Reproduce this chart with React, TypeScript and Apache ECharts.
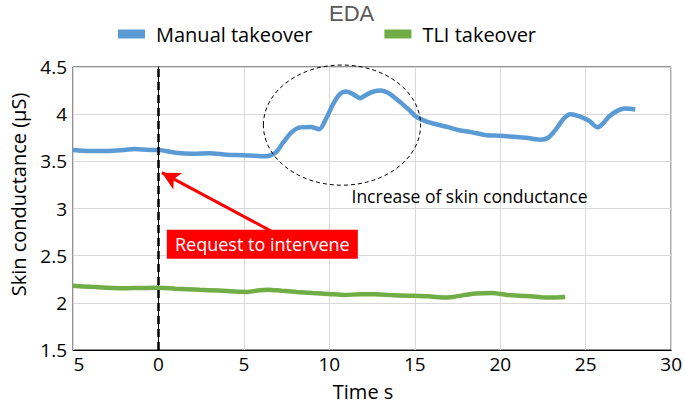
import React, { useEffect, useRef } from "react";
import * as echarts from "echarts";

const manualTime = [-5, -4, -3, -2, -1.4, -0.5, 0, 1, 2, 3, 4, 5, 6, 6.5, 6.9, 7.3, 7.8, 8.3, 8.9, 9.4, 9.8, 10.2, 10.6, 11.0, 11.4, 11.8, 12.2, 12.6, 13.0, 13.4, 13.8, 14.2, 14.7, 15.1, 15.7, 16.3, 17, 17.6, 18.3, 19.1, 20, 20.8, 21.5, 22.3, 22.8, 23.3, 23.7, 24.1, 24.6, 25.2, 25.7, 26, 26.4, 26.9, 27.3, 27.9];
const manualEDA = [3.62, 3.61, 3.61, 3.62, 3.63, 3.62, 3.62, 3.59, 3.58, 3.585, 3.57, 3.565, 3.555, 3.56, 3.6, 3.7, 3.81, 3.86, 3.865, 3.84, 3.95, 4.1, 4.21, 4.24, 4.21, 4.17, 4.21, 4.24, 4.25, 4.23, 4.18, 4.12, 4.04, 3.97, 3.92, 3.89, 3.86, 3.83, 3.81, 3.78, 3.77, 3.76, 3.75, 3.73, 3.75, 3.85, 3.95, 4.0, 3.98, 3.93, 3.86, 3.9, 3.98, 4.04, 4.06, 4.05];

const tliTime = [-5, -4, -3, -2, -1, 0, 1, 2.4, 3.5, 4.5, 5.2, 5.8, 6.4, 7.2, 8.1, 9, 10, 10.9, 11.8, 12.7, 13.8, 15, 15.8, 16.6, 17.25, 18, 18.6, 19.5, 20.4, 21.5, 22.4, 22.9, 23.8];
const tliEDA = [2.18, 2.17, 2.16, 2.155, 2.158, 2.16, 2.15, 2.138, 2.13, 2.12, 2.116, 2.13, 2.14, 2.128, 2.116, 2.105, 2.094, 2.084, 2.09, 2.09, 2.08, 2.074, 2.07, 2.056, 2.063, 2.085, 2.1, 2.105, 2.084, 2.072, 2.06, 2.056, 2.063];

const seriesNames = ["Manual takeover", "TLI takeover"];
const xTicks = { min: -5, max: 30, step: 5 };
const yTicks = { min: 1.5, max: 4.5, step: 0.5 };
const interventionTime = 0;

// annotation anchors (data coordinates)
const ellipseCenter = [10.74, 3.884];
const ellipseRadius = [4.6, 0.637];
const increaseLabelAt = [18.2, 3.13];
const arrowFrom = [6.6, 2.76];
const arrowTo = [0.2, 3.38];
const requestBoxAt = [0.49, 2.774];

const FONT = "'Open Sans', sans-serif";
const TITLE_FONT = "'Liberation Sans', sans-serif";

export default function App() {
  const ref = useRef<HTMLDivElement>(null);
  useEffect(() => {
    document.body.style.margin = "0";
    const chart = echarts.init(ref.current!, null, { renderer: "svg" });
    chart.setOption({
      animation: false,
      textStyle: { fontFamily: FONT },
      title: {
        text: "EDA",
        left: 329,
        top: 0,
        padding: 0,
        textStyle: { color: "#595959", fontSize: 22, lineHeight: 26, fontWeight: "normal", fontFamily: TITLE_FONT },
      },
      legend: {
        top: 19,
        left: 113,
        itemWidth: 27,
        itemHeight: 9,
        itemGap: 72,
        icon: "rect",
        textStyle: { fontSize: 20, color: "#000", fontFamily: FONT, padding: [0, 0, 0, 6] },
        data: seriesNames,
      },
      grid: {
        left: 69,
        right: 4,
        top: 67,
        bottom: 54,
        show: true,
        borderColor: "#222",
        borderWidth: 1,
      },
      xAxis: {
        type: "value",
        min: xTicks.min,
        max: xTicks.max,
        interval: xTicks.step,
        name: "Time s",
        nameLocation: "middle",
        nameGap: 31,
        nameTextStyle: { fontSize: 20, color: "#000", fontFamily: FONT, padding: [0, 18, 0, 0] },
        axisLine: { lineStyle: { color: "#000", width: 1 } },
        axisTick: { show: false },
        axisLabel: {
          fontSize: 19,
          color: "#000",
          margin: 4,
          fontFamily: FONT,
          formatter: (v: number) => (v < 0 ? "{p|" + Math.abs(v) + "}" : String(v)),
          rich: { p: { fontSize: 19, color: "#000", fontFamily: FONT, padding: [0, 0, 0, 12] } },
        },
        splitLine: { show: true, lineStyle: { color: "#d9d9d9", width: 1 } },
      },
      yAxis: {
        type: "value",
        min: yTicks.min,
        max: yTicks.max,
        interval: yTicks.step,
        name: "Skin conductance (µS)",
        nameLocation: "middle",
        nameGap: 45,
        nameTextStyle: { fontSize: 20, color: "#000", fontFamily: FONT, padding: [0, 0, 0, 28] },
        axisLine: { show: true, lineStyle: { color: "#000", width: 1 } },
        axisTick: { show: false },
        axisLabel: { fontSize: 19, color: "#000", margin: 6, fontFamily: FONT },
        splitLine: { show: true, lineStyle: { color: "#d9d9d9", width: 1 } },
      },
      series: [
        {
          name: seriesNames[0],
          type: "line",
          data: manualTime.map((t, i) => [t, manualEDA[i]]),
          showSymbol: false,
          smooth: 0.3,
          color: "#5B9BD5",
          lineStyle: { width: 4.5, color: "#5B9BD5" },
          z: 3,
          markLine: {
            silent: true,
            animation: false,
            label: { show: false },
            data: [
              [
                { coord: arrowFrom, symbol: "none", lineStyle: { color: "#FF0000", width: 3, type: "solid" } },
                { coord: arrowTo, symbol: "arrow", symbolSize: [14, 18] },
              ],
            ],
          },
        },
        {
          name: seriesNames[1],
          type: "line",
          data: tliTime.map((t, i) => [t, tliEDA[i]]),
          showSymbol: false,
          smooth: 0.3,
          color: "#70AD47",
          lineStyle: { width: 4.5, color: "#70AD47" },
          z: 3,
          markLine: {
            silent: true,
            animation: false,
            symbol: "none",
            label: { show: false },
            lineStyle: { color: "#000", width: 2.5, type: [8, 5] },
            data: [{ xAxis: interventionTime }],
          },
        },
      ],
    });

    const px = (p: number[]) => chart.convertToPixel({ gridIndex: 0 }, p) as number[];
    const c = px(ellipseCenter);
    const edge = px([ellipseCenter[0] + ellipseRadius[0], ellipseCenter[1] + ellipseRadius[1]]);
    const lab = px(increaseLabelAt);
    const box = px(requestBoxAt);
    chart.setOption({
      graphic: [
        {
          type: "ellipse",
          shape: { cx: c[0], cy: c[1], rx: Math.abs(edge[0] - c[0]), ry: Math.abs(edge[1] - c[1]) },
          style: { fill: "none", stroke: "#000", lineWidth: 1, lineDash: [4, 3] },
          z: 10,
        },
        {
          type: "text",
          x: lab[0],
          y: lab[1],
          style: {
            text: "Increase of skin conductance",
            fill: "#000",
            fontSize: 17.5,
            fontFamily: FONT,
            align: "center",
            verticalAlign: "middle",
          },
          z: 10,
        },
        {
          type: "rect",
          shape: { x: box[0], y: box[1], width: 191, height: 29 },
          style: { fill: "#FF0000" },
          z: 10,
        },
        {
          type: "text",
          x: box[0] + 95.5,
          y: box[1] + 14.5,
          style: {
            text: "Request to intervene",
            fill: "#fff",
            fontSize: 18,
            fontFamily: FONT,
            align: "center",
            verticalAlign: "middle",
          },
          z: 11,
        },
      ],
    });
    return () => chart.dispose();
  }, []);
  return <div ref={ref} style={{ width: 685, height: 406, position: "absolute", left: 0, top: 0 }} />;
}
